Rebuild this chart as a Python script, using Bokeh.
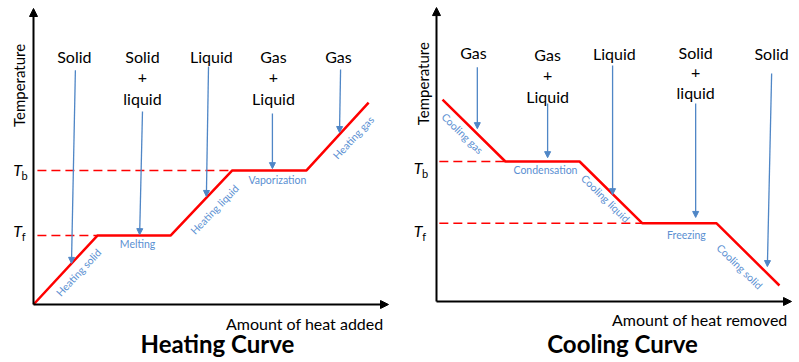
from bokeh.plotting import figure
from bokeh.models import Range1d, Arrow, NormalHead, ColumnDataSource
from bokeh.layouts import row
from bokeh.core.properties import value
from bokeh.embed import file_html
from bokeh.resources import INLINE

FONT = "Lato"
RED = "#ff0000"
BLUE = "#4f86c6"
BLUE_TXT = "#5b90d2"

# ---------------- data ----------------
# Heating curve (heat added, temperature) in arbitrary units
heat_heating = [0.0, 1.80, 3.86, 5.60, 7.69, 9.44]
temp_heating = [0.0, 2.33, 2.33, 4.53, 4.53, 6.82]
tf_heating = 2.33
tb_heating = 4.53

# Cooling curve (heat removed, temperature)
heat_cooling = [0.17, 1.94, 4.03, 5.80, 7.89, 9.66]
temp_cooling = [6.82, 4.73, 4.73, 2.64, 2.64, 0.54]
tb_cooling = 4.73
tf_cooling = 2.64

# phase labels (lines of text), and their x positions
heating_phases = [["Solid"], ["Solid", "+", "liquid"], ["Liquid"], ["Gas", "+", "Liquid"], ["Gas"]]
heating_phase_x = [1.15, 3.07, 5.01, 6.76, 8.59]
heating_phase_y = [[8.38], [8.38, 7.67, 6.96], [8.38], [8.38, 7.67, 6.96], [8.38]]
# arrow start/end for each phase (x0, y0, x1, y1)
heating_arrows = [(1.18, 7.91, 1.07, 1.39), (3.07, 6.52, 2.99, 2.36), (4.93, 8.04, 4.87, 3.65),
                  (6.73, 6.45, 6.73, 4.59), (8.65, 7.94, 8.62, 5.81)]
heating_process = ["Heating solid", "Melting", "Heating liquid", "Vaporization", "Heating gas"]
heating_process_x = [1.27, 2.93, 5.10, 6.87, 9.01]
heating_process_y = [1.08, 2.03, 3.21, 4.19, 5.64]
heating_process_angle = [47, 0, 46, 0, 47]

cooling_phases = [["Gas"], ["Gas", "+", "Liquid"], ["Liquid"], ["Solid", "+", "liquid"], ["Solid"]]
cooling_phase_x = [1.04, 3.13, 5.01, 7.30, 9.44]
cooling_phase_y = [[8.41], [8.34, 7.64, 6.93], [8.38], [8.41, 7.74, 7.06], [8.38]]
cooling_arrows = [(1.15, 7.91, 1.15, 5.84), (3.13, 6.69, 3.13, 4.86), (4.96, 7.97, 4.96, 3.61),
                  (7.30, 6.69, 7.30, 2.84), (9.44, 7.70, 9.32, 1.18)]
cooling_process = ["Cooling gas", "Condensation", "Cooling liquid", "Freezing", "Cooling solid"]
cooling_process_x = [0.73, 3.07, 4.76, 7.04, 8.54]
cooling_process_y = [5.68, 4.43, 3.48, 2.26, 1.18]
cooling_process_angle = [-44.5, 0, -44.5, 0, -44.5]


def make_chart(width, xr, yr, heat, temp, tb, tf, dash_x0, phases, phase_x, phase_y,
               arrows, procs, proc_x, proc_y, proc_ang, xlabel, xlabel_pos, title, title_pos,
               ylab_pos, t_x, tb_y, tf_y, axis_top, axis_right):
    p = figure(width=width, height=362, x_range=Range1d(*xr), y_range=Range1d(*yr),
               output_backend="svg", toolbar_location=None, min_border=0,
               x_axis_location=None, y_axis_location=None)
    p.grid.visible = False
    p.outline_line_color = None
    p.background_fill_color = "white"

    # axes as arrows
    p.add_layout(Arrow(x_start=0, y_start=0, x_end=0, y_end=axis_top, line_width=2, line_color="black",
                       end=NormalHead(size=8, fill_color="black", line_color="black")))
    p.add_layout(Arrow(x_start=0, y_start=0, x_end=axis_right, y_end=0, line_width=2, line_color="black",
                       end=NormalHead(size=8, fill_color="black", line_color="black")))

    # dashed temperature reference lines
    i_tb = temp.index(tb)
    i_tf = temp.index(tf)
    p.line([dash_x0, heat[i_tb]], [tb, tb], line_color=RED, line_width=1.5, line_dash="9 5")
    p.line([dash_x0, heat[i_tf]], [tf, tf], line_color=RED, line_width=1.5, line_dash="9 5")

    # curve
    p.line(heat, temp, line_color=RED, line_width=2.5)

    # phase labels
    xs, ys, ts = [], [], []
    for lines, x, yl in zip(phases, phase_x, phase_y):
        for t, y in zip(lines, yl):
            xs.append(x); ys.append(y); ts.append(t)
    p.text(x=xs, y=ys, text=ts, text_font=value(FONT), text_font_size="16px",
           text_align="center", text_baseline="middle", text_color="black")

    # blue arrows
    for (x0, y0, x1, y1) in arrows:
        p.add_layout(Arrow(x_start=x0, y_start=y0, x_end=x1, y_end=y1, line_color=BLUE, line_width=1.3,
                           end=NormalHead(size=6, fill_color=BLUE, line_color=BLUE)))

    # process labels
    src = ColumnDataSource(dict(x=proc_x, y=proc_y, text=procs, angle=proc_ang))
    p.text(x="x", y="y", text="text", angle="angle", angle_units="deg", source=src,
           text_font=value(FONT), text_font_size="10.5px", text_align="center",
           text_baseline="middle", text_color=BLUE_TXT)

    # axis labels
    p.text(x=[ylab_pos[0]], y=[ylab_pos[1]], text=["Temperature"], angle=[90], angle_units="deg",
           text_font=value(FONT), text_font_size="15px", text_align="center",
           text_baseline="middle", text_color="black")
    p.text(x=[xlabel_pos[0]], y=[xlabel_pos[1]], text=[xlabel], text_font=value(FONT),
           text_font_size="16px", text_align="right", text_baseline="middle", text_color="black")
    p.text(x=[title_pos[0]], y=[title_pos[1]], text=[title], text_font=value(FONT),
           text_font_size="24px", text_font_style="bold", text_align="center",
           text_baseline="middle", text_color="black")

    # T_b / T_f
    p.text(x=[t_x, t_x], y=[tb_y, tf_y], text=["T", "T"], text_font=value(FONT),
           text_font_size="16px", text_font_style="italic", text_align="center",
           text_baseline="middle", text_color="black")
    p.text(x=[t_x + 0.2, t_x + 0.17], y=[tb_y - 0.2, tf_y - 0.2], text=["b", "f"], text_font=value(FONT),
           text_font_size="11px", text_align="center", text_baseline="middle", text_color="black")
    return p


left = make_chart(400, (-0.9296, 10.338), (-1.959, 10.270), heat_heating, temp_heating,
                  tb_heating, tf_heating, 0.11, heating_phases, heating_phase_x, heating_phase_y,
                  heating_arrows, heating_process, heating_process_x, heating_process_y,
                  heating_process_angle, "Amount of heat added", (9.86, -0.64),
                  "Heating Curve", (5.18, -1.32), (-0.42, 7.40), -0.45, 4.56, 2.49, 10.0, 10.0)

right = make_chart(399, (-1.014, 10.225), (-2.061, 10.169), heat_cooling, temp_cooling,
                   tb_cooling, tf_cooling, 0.08, cooling_phases, cooling_phase_x, cooling_phase_y,
                   cooling_arrows, cooling_process, cooling_process_x, cooling_process_y,
                   cooling_process_angle, "Amount of heat removed", (9.89, -0.61),
                   "Cooling Curve", (5.24, -1.42), (-0.39, 7.36), -0.52, 4.53, 2.40, 9.93, 10.0)

layout = row(left, right)
open("out.html", "w").write(file_html(layout, INLINE))
